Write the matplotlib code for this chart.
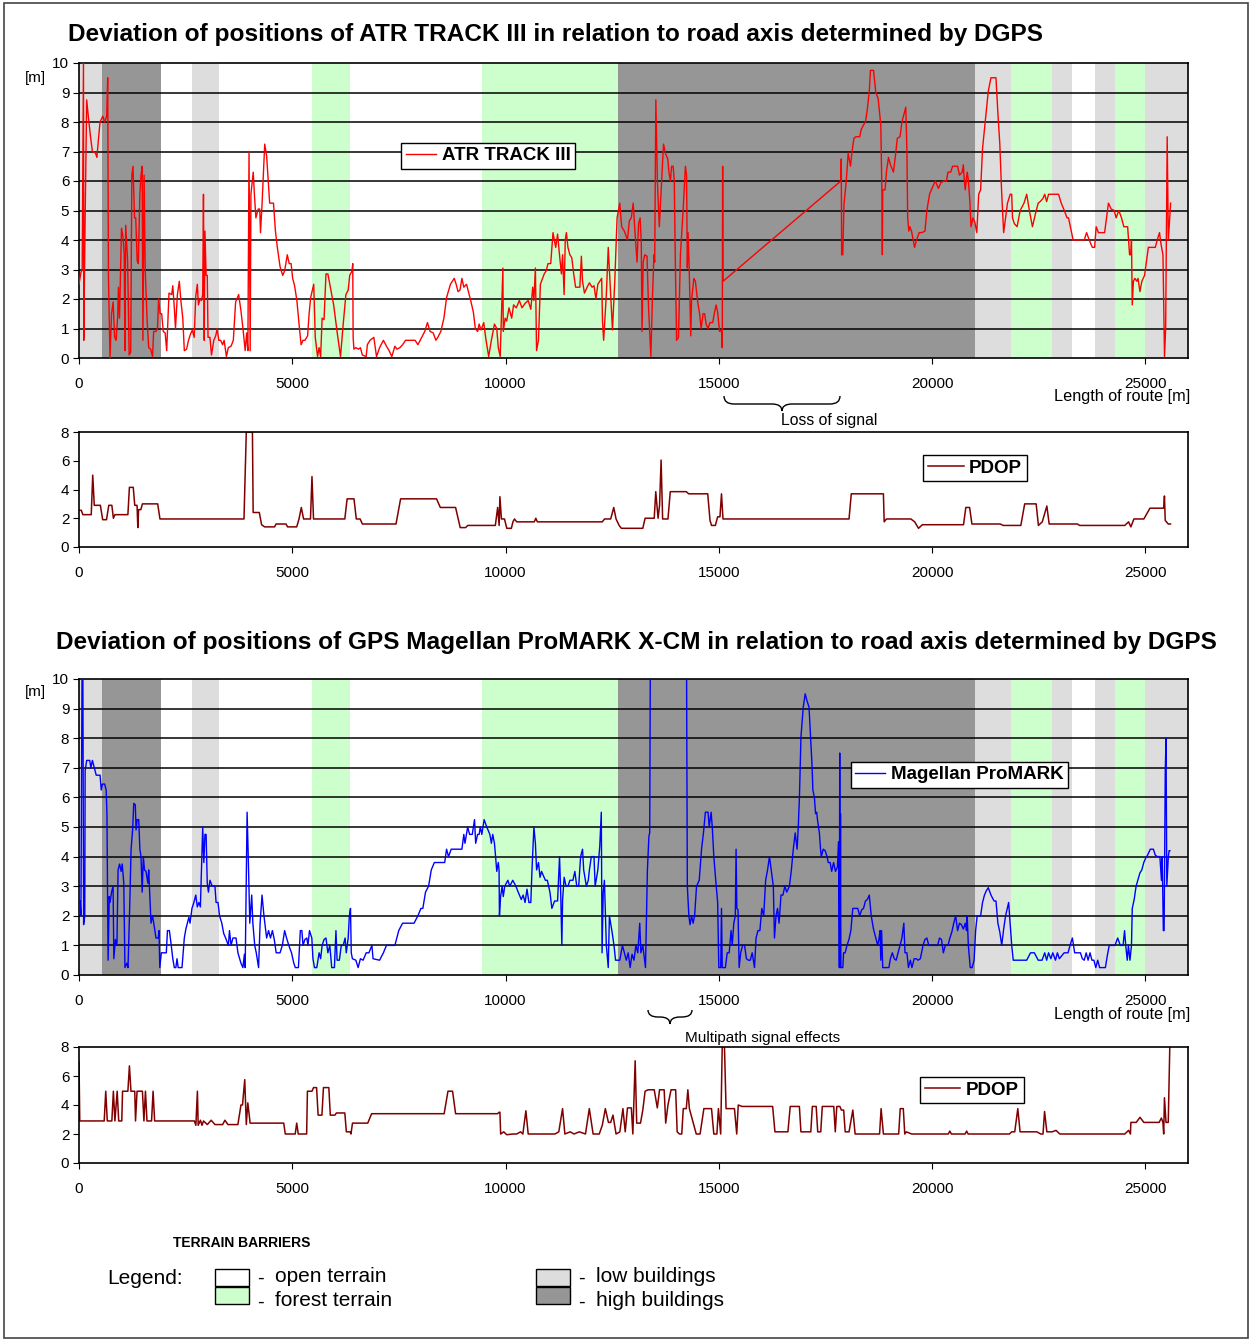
import numpy as np
import matplotlib.pyplot as plt
from matplotlib.patches import Rectangle, PathPatch
from matplotlib.path import Path

plt.rcParams['font.family'] = ['Liberation Sans', 'DejaVu Sans']

W, H = 1252, 1341

# terrain barriers along the route [m]
band_edges = [0, 530, 1912, 2640, 3277, 5458, 6347, 9444, 12633, 21003,
              21849, 22812, 23280, 23829, 24297, 25000, 26000]
band_types = ['low', 'high', 'open', 'low', 'open', 'forest', 'open', 'forest',
              'high', 'low', 'forest', 'low', 'open', 'low', 'forest', 'low']
band_colors = {'open': 'white', 'forest': '#ccffcc', 'low': '#dddddd', 'high': '#969696'}

# ATR TRACK III deviation (distance [m], deviation [m])
atr_points = [
    (0, 2.5), (45, 2.9), (75, 3.0), (105, 10.0), (112, 0.6), (140, 4.3), (180, 8.75), (225, 8.1),
    (270, 7.5), (314, 7.0), (386, 6.95), (420, 6.8), (458, 7.45), (494, 8.0), (557, 8.2), (600, 8.0),
    (650, 8.2), (673, 9.5), (690, 2.8), (727, 0.0), (763, 1.5), (800, 1.9), (835, 0.7), (870, 0.6),
    (907, 1.4), (925, 2.4), (950, 1.35), (996, 4.4), (1032, 4.1), (1060, 3.5), (1077, 0.25),
    (1095, 4.5), (1140, 3.3), (1176, 0.1), (1212, 0.2), (1239, 6.2), (1266, 6.5), (1302, 4.75),
    (1330, 4.75), (1364, 3.3), (1390, 3.2), (1427, 5.55), (1454, 6.2), (1481, 6.5), (1499, 0.6),
    (1526, 6.2), (1553, 2.95), (1598, 1.25), (1634, 0.35), (1680, 0.3), (1724, 0.05), (1750, 0.9),
    (1805, 0.9), (1840, 1.0), (1867, 2.0), (1903, 1.5), (1939, 1.5), (1975, 0.9), (2020, 0.85),
    (2056, 0.25), (2110, 2.2), (2173, 2.15), (2199, 2.45), (2235, 1.7), (2262, 1.0), (2307, 2.15),
    (2352, 2.6), (2388, 1.95), (2433, 1.35), (2469, 0.25), (2523, 0.3), (2567, 0.6), (2612, 0.8),
    (2657, 0.95), (2700, 0.7), (2738, 2.1), (2774, 2.5), (2800, 1.8), (2837, 2.0), (2873, 1.95),
    (2900, 2.15), (2918, 5.55), (2936, 0.6), (2953, 4.3), (2980, 2.8), (3007, 2.8), (3025, 0.7),
    (3070, 0.7), (3106, 0.1), (3160, 0.6), (3205, 0.75), (3241, 1.0), (3277, 0.6), (3321, 0.6),
    (3366, 0.45), (3402, 0.6), (3456, 0.05), (3500, 0.35), (3564, 0.4), (3618, 0.6), (3672, 1.9),
    (3743, 2.15), (3797, 1.6), (3851, 0.9), (3896, 0.25), (3932, 0.85), (3959, 0.25), (3986, 7.0),
    (4013, 0.25), (4031, 5.55), (4085, 6.3), (4112, 5.55), (4147, 4.75), (4201, 5.05), (4237, 5.05),
    (4255, 4.25), (4291, 5.2), (4354, 7.25), (4399, 6.85), (4470, 5.25), (4560, 5.25), (4605, 4.3),
    (4650, 3.75), (4713, 3.1), (4776, 2.8), (4821, 2.95), (4883, 3.5), (4928, 3.2), (4973, 3.2),
    (5009, 2.7), (5054, 2.45), (5108, 1.95), (5162, 1.1), (5207, 0.45), (5252, 0.6), (5296, 0.6),
    (5359, 0.75), (5395, 1.5), (5431, 2.05), (5503, 2.5), (5539, 0.7), (5593, 0.05), (5629, 0.35),
    (5665, 0.05), (5700, 1.35), (5745, 1.3), (5790, 2.85), (5835, 2.85), (5880, 2.5), (5970, 1.8),
    (6059, 0.8), (6131, 0.05), (6194, 1.15), (6257, 2.15), (6311, 2.3), (6347, 2.8), (6400, 2.95),
    (6418, 3.2), (6427, 0.7), (6445, 0.3), (6490, 0.35), (6553, 0.3), (6598, 0.35), (6643, 0.1),
    (6733, 0.05), (6760, 0.45), (6822, 0.6), (6912, 0.7), (6975, 0.05), (7047, 0.35), (7137, 0.6),
    (7208, 0.4), (7271, 0.25), (7334, 0.05), (7406, 0.4), (7451, 0.3), (7523, 0.35), (7586, 0.45),
    (7657, 0.6), (7810, 0.6), (7880, 0.6), (7945, 0.45), (8034, 0.7), (8106, 0.9), (8169, 1.2),
    (8232, 0.9), (8304, 0.85), (8367, 0.6), (8412, 0.7), (8483, 0.9), (8555, 1.35), (8618, 2.05),
    (8708, 2.5), (8797, 2.7), (8842, 2.5), (8887, 2.25), (8932, 2.3), (8977, 2.7), (9022, 2.4),
    (9085, 2.5), (9130, 2.25), (9183, 1.95), (9246, 1.55), (9291, 1.0), (9345, 0.9), (9381, 1.15),
    (9426, 0.95), (9489, 1.2), (9543, 0.6), (9605, 0.05), (9668, 0.6), (9740, 1.15), (9794, 1.0),
    (9830, 0.35), (9875, 0.05), (9938, 3.05), (9947, 0.9), (9991, 1.35), (10027, 1.25), (10081, 1.7),
    (10144, 1.35), (10189, 1.8), (10252, 1.7), (10323, 1.95), (10386, 1.7), (10458, 1.85),
    (10530, 1.95), (10593, 1.65), (10637, 2.4), (10664, 1.95), (10700, 3.05), (10727, 0.25),
    (10772, 0.6), (10817, 2.5), (10907, 2.85), (10952, 2.95), (10996, 3.2), (11059, 3.2),
    (11113, 4.25), (11176, 3.75), (11220, 4.2), (11265, 3.5), (11310, 2.85), (11337, 3.5),
    (11373, 2.15), (11400, 4.0), (11427, 4.25), (11463, 3.75), (11508, 3.5), (11553, 3.4),
    (11598, 2.85), (11643, 2.4), (11697, 2.4), (11742, 2.4), (11778, 3.45), (11805, 2.6),
    (11850, 2.2), (11913, 2.4), (11966, 2.55), (12029, 2.4), (12074, 2.45), (12119, 2.0),
    (12164, 2.5), (12209, 2.6), (12254, 2.7), (12273, 1.25), (12300, 0.6), (12363, 2.15),
    (12408, 3.75), (12507, 0.95), (12561, 2.6), (12615, 4.75), (12678, 5.25), (12723, 4.45),
    (12786, 4.3), (12858, 4.0), (12903, 4.65), (12948, 4.75), (12993, 5.25), (13038, 4.2),
    (13083, 3.25), (13119, 4.55), (13155, 4.75), (13182, 3.95), (13200, 0.9), (13227, 3.25),
    (13263, 3.5), (13317, 3.45), (13353, 1.7), (13407, 0.05), (13443, 2.0), (13479, 3.5),
    (13497, 3.25), (13524, 8.75), (13560, 6.0), (13605, 4.45), (13659, 6.0), (13704, 7.25),
    (13758, 6.9), (13803, 6.75), (13830, 6.3), (13866, 6.0), (13893, 6.5), (13929, 6.5),
    (13956, 6.0), (13983, 3.05), (14010, 0.6), (14055, 0.7), (14100, 3.5), (14163, 5.0),
    (14217, 6.5), (14244, 6.2), (14262, 3.05), (14280, 4.25), (14307, 2.95), (14343, 0.75),
    (14361, 1.95), (14415, 2.7), (14451, 2.6), (14505, 1.9), (14550, 1.5), (14586, 1.0),
    (14631, 1.5), (14667, 1.5), (14703, 1.15), (14748, 1.0), (14793, 1.2), (14856, 1.2),
    (14901, 1.55), (14937, 1.8), (14973, 1.55), (15018, 0.9), (15063, 0.95), (15081, 0.35),
    (15090, 6.5), (15099, 2.6), (17862, 6.0), (17871, 6.75), (17880, 3.5), (17907, 3.5),
    (17934, 5.2), (17988, 6.0), (18033, 6.95), (18087, 6.5), (18123, 7.0), (18168, 7.45),
    (18213, 7.5), (18303, 7.5), (18339, 7.75), (18393, 7.9), (18438, 8.0), (18483, 8.45),
    (18528, 9.05), (18555, 9.75), (18627, 9.75), (18681, 9.0), (18735, 8.8), (18798, 7.9),
    (18825, 5.55), (18834, 3.5), (18843, 5.7), (18897, 5.7), (18933, 6.35), (18978, 6.8),
    (19023, 6.55), (19095, 6.3), (19140, 6.85), (19185, 7.45), (19248, 7.5), (19293, 8.0),
    (19338, 8.25), (19383, 8.5), (19410, 7.05), (19428, 4.75), (19455, 4.3), (19482, 4.45),
    (19518, 4.3), (19563, 3.95), (19590, 3.75), (19635, 4.0), (19698, 4.25), (19761, 4.25),
    (19833, 4.3), (19878, 5.0), (19941, 5.55), (20013, 5.8), (20076, 6.0), (20148, 5.75),
    (20211, 5.95), (20283, 6.0), (20337, 6.0), (20373, 6.3), (20436, 6.3), (20481, 6.5),
    (20598, 6.5), (20643, 6.2), (20706, 6.3), (20733, 6.55), (20751, 6.1), (20778, 5.7),
    (20823, 6.3), (20850, 6.05), (20886, 5.3), (20913, 4.45), (20958, 4.75), (21003, 4.6),
    (21048, 4.25), (21093, 5.55), (21138, 5.7), (21183, 7.1), (21255, 8.15), (21318, 9.05),
    (21381, 9.5), (21498, 9.5), (21543, 8.3), (21588, 7.25), (21633, 5.55), (21678, 4.25),
    (21723, 4.75), (21768, 5.25), (21831, 5.55), (21867, 5.55), (21885, 4.75), (21930, 4.55),
    (21993, 4.45), (22065, 5.0), (22155, 5.25), (22218, 5.55), (22281, 5.0), (22353, 4.45),
    (22425, 4.9), (22488, 5.25), (22533, 5.3), (22596, 5.4), (22641, 5.55), (22686, 5.3),
    (22731, 5.55), (22965, 5.55), (23028, 5.25), (23100, 5.0), (23163, 4.75), (23199, 4.75),
    (23307, 4.0), (23568, 4.0), (23622, 4.25), (23685, 4.0), (23757, 3.75), (23811, 3.75),
    (23847, 4.45), (23901, 4.25), (24045, 4.25), (24090, 4.75), (24135, 5.25), (24198, 5.05),
    (24270, 5.0), (24315, 4.75), (24378, 5.0), (24441, 4.75), (24495, 4.45), (24585, 4.45),
    (24630, 3.5), (24657, 3.5), (24675, 4.0), (24693, 1.8), (24720, 2.6), (24756, 2.7),
    (24801, 2.6), (24828, 2.7), (24873, 2.25), (24918, 2.6), (24981, 2.8), (25071, 3.75),
    (25233, 3.75), (25278, 4.0), (25332, 4.25), (25368, 3.85), (25413, 3.5), (25449, 0.05),
    (25476, 1.0), (25512, 7.5), (25539, 4.0), (25593, 5.25),
]

# Magellan ProMARK X-CM deviation (distance [m], deviation [m])
mag_points = [
    (0, 2.45), (27, 2.5), (45, 2.0), (72, 10.5), (90, 10.5), (108, 1.7), (135, 2.0), (144, 6.9),
    (180, 7.25), (251, 7.25), (278, 7.0), (314, 7.25), (359, 7.0), (404, 6.75), (494, 6.75),
    (521, 6.25), (548, 6.45), (601, 6.45), (637, 6.25), (655, 5.45), (682, 0.5), (709, 2.65),
    (727, 2.45), (763, 2.8), (799, 3.0), (817, 0.55), (853, 1.2), (889, 1.0), (916, 3.55),
    (952, 3.75), (988, 3.5), (1014, 3.75), (1050, 3.1), (1077, 0.25), (1122, 0.4), (1149, 0.25),
    (1185, 2.1), (1221, 4.25), (1257, 4.9), (1284, 5.8), (1320, 5.75), (1338, 4.9), (1364, 5.25),
    (1400, 5.25), (1427, 4.25), (1454, 4.0), (1481, 2.8), (1508, 4.0), (1535, 3.55), (1571, 3.5),
    (1616, 3.1), (1634, 3.55), (1661, 2.65), (1688, 1.75), (1724, 2.0), (1769, 1.6), (1804, 1.25),
    (1858, 1.25), (1876, 1.5), (1894, 0.25), (1930, 0.75), (2047, 0.75), (2074, 1.5), (2119, 1.5),
    (2163, 1.0), (2199, 0.55), (2235, 0.25), (2271, 0.25), (2298, 0.55), (2325, 0.25), (2415, 0.25),
    (2469, 1.25), (2505, 1.55), (2540, 1.75), (2576, 1.95), (2603, 1.75), (2648, 2.25), (2693, 2.45),
    (2738, 2.7), (2774, 2.3), (2810, 2.45), (2846, 2.3), (2873, 3.65), (2900, 5.0), (2927, 3.8),
    (2953, 4.75), (2980, 4.75), (3007, 3.1), (3034, 2.8), (3070, 3.2), (3124, 3.0), (3187, 3.0),
    (3214, 2.45), (3259, 2.45), (3295, 2.0), (3348, 1.75), (3393, 1.4), (3438, 1.25), (3501, 1.0),
    (3528, 1.5), (3564, 1.0), (3609, 1.25), (3681, 1.25), (3726, 0.75), (3797, 0.4), (3842, 0.25),
    (3878, 0.7), (3896, 0.25), (3941, 5.5), (3968, 4.0), (4004, 1.75), (4049, 2.7), (4076, 1.75),
    (4120, 1.0), (4156, 0.75), (4210, 0.25), (4246, 1.75), (4291, 2.7), (4336, 2.0), (4399, 1.25),
    (4444, 1.5), (4489, 1.25), (4534, 1.5), (4578, 1.2), (4623, 0.75), (4713, 0.75), (4767, 1.0),
    (4821, 1.5), (4866, 1.25), (4919, 1.0), (4982, 0.75), (5036, 0.4), (5072, 0.25), (5144, 0.25),
    (5189, 1.5), (5225, 1.5), (5252, 1.0), (5296, 1.2), (5341, 1.25), (5368, 1.0), (5404, 1.5),
    (5458, 1.25), (5485, 0.55), (5521, 0.25), (5575, 0.25), (5629, 0.75), (5665, 0.55), (5700, 1.0),
    (5745, 1.2), (5790, 1.25), (5835, 0.75), (5880, 1.0), (5925, 0.25), (5988, 0.25), (6024, 1.5),
    (6051, 0.5), (6104, 0.5), (6149, 1.0), (6194, 1.0), (6239, 1.25), (6266, 0.75), (6311, 1.25),
    (6338, 2.0), (6365, 2.25), (6383, 0.75), (6410, 0.55), (6490, 0.5), (6544, 0.25), (6598, 0.55),
    (6661, 0.5), (6733, 0.75), (6796, 0.75), (6867, 1.0), (6894, 0.55), (7047, 0.5), (7137, 0.75),
    (7208, 1.0), (7406, 1.0), (7496, 1.5), (7586, 1.75), (7855, 1.75), (7945, 2.0), (8016, 2.25),
    (8061, 2.25), (8124, 2.8), (8196, 3.0), (8259, 3.55), (8331, 3.8), (8573, 3.8), (8618, 4.25),
    (8663, 4.0), (8726, 4.25), (8977, 4.25), (9022, 4.75), (9049, 4.45), (9112, 5.0), (9157, 4.75),
    (9220, 4.75), (9273, 5.25), (9300, 4.45), (9345, 4.75), (9381, 4.75), (9408, 5.0), (9444, 4.75),
    (9498, 5.25), (9560, 5.0), (9632, 4.75), (9668, 4.45), (9700, 4.75), (9740, 4.45), (9767, 4.0),
    (9794, 3.5), (9830, 3.8), (9848, 3.55), (9857, 2.0), (9884, 2.65), (9920, 3.0), (9947, 2.65),
    (9982, 3.0), (10054, 3.2), (10099, 3.0), (10170, 3.2), (10243, 3.0), (10297, 2.8), (10369, 2.55),
    (10413, 2.7), (10458, 2.45), (10503, 2.9), (10548, 2.45), (10593, 2.45), (10620, 3.55),
    (10665, 5.0), (10700, 4.45), (10728, 3.55), (10773, 3.8), (10808, 3.3), (10844, 3.5),
    (10934, 3.2), (10980, 3.2), (11041, 2.8), (11086, 2.25), (11150, 2.5), (11220, 2.5),
    (11266, 4.0), (11293, 2.8), (11320, 1.0), (11338, 2.55), (11374, 3.3), (11419, 3.0),
    (11464, 3.0), (11509, 3.2), (11580, 3.2), (11625, 3.5), (11670, 3.0), (11715, 3.0),
    (11760, 4.0), (11805, 4.25), (11832, 3.55), (11895, 3.0), (11940, 3.2), (11966, 3.55),
    (12011, 4.0), (12074, 4.0), (12101, 3.0), (12164, 3.55), (12209, 4.35), (12245, 5.5),
    (12263, 0.75), (12290, 2.8), (12318, 3.2), (12363, 1.0), (12408, 0.25), (12435, 2.0),
    (12498, 1.45), (12543, 1.0), (12579, 0.5), (12678, 0.5), (12741, 1.0), (12786, 0.75),
    (12831, 0.5), (12876, 0.75), (12921, 0.25), (12966, 0.7), (13011, 0.5), (13056, 1.0),
    (13101, 0.75), (13146, 1.75), (13173, 0.75), (13218, 1.0), (13281, 0.25), (13326, 3.55),
    (13362, 4.7), (13380, 4.8), (13398, 12.0), (14240, 12.0), (14262, 3.0), (14298, 2.0),
    (14325, 1.7), (14361, 2.0), (14397, 1.75), (14433, 2.0), (14478, 3.0), (14541, 3.2),
    (14595, 4.25), (14640, 4.8), (14685, 5.5), (14748, 5.5), (14775, 5.0), (14820, 5.5),
    (14847, 5.0), (14883, 4.0), (14928, 3.2), (14973, 2.45), (15000, 0.25), (15045, 0.25),
    (15063, 2.25), (15081, 0.25), (15153, 0.25), (15198, 0.75), (15243, 0.75), (15288, 1.5),
    (15315, 1.0), (15351, 1.75), (15387, 2.0), (15405, 4.25), (15423, 2.25), (15450, 2.2),
    (15477, 0.25), (15513, 0.75), (15558, 1.0), (15603, 1.0), (15648, 0.55), (15693, 0.5),
    (15738, 0.5), (15783, 0.75), (15810, 0.5), (15837, 0.25), (15873, 1.25), (15918, 1.5),
    (15963, 1.5), (16008, 2.25), (16053, 2.0), (16098, 3.2), (16143, 3.55), (16188, 4.0),
    (16233, 3.5), (16278, 3.0), (16305, 1.25), (16341, 2.0), (16377, 2.25), (16413, 1.75),
    (16458, 2.7), (16503, 2.7), (16548, 3.0), (16593, 2.8), (16656, 3.0), (16701, 3.55),
    (16746, 4.25), (16791, 4.8), (16836, 4.25), (16863, 5.0), (16890, 6.0), (16926, 8.05),
    (16980, 9.05), (17025, 9.5), (17070, 9.25), (17115, 9.05), (17151, 8.05), (17187, 7.05),
    (17205, 6.25), (17241, 6.0), (17268, 5.45), (17295, 5.5), (17313, 5.25), (17358, 4.8),
    (17385, 4.25), (17403, 4.0), (17448, 4.25), (17493, 4.2), (17538, 4.0), (17565, 3.8),
    (17610, 3.8), (17646, 3.5), (17691, 3.8), (17736, 3.5), (17781, 3.65), (17808, 4.5),
    (17826, 0.25), (17835, 7.5), (17844, 0.25), (17853, 5.45), (17862, 0.25), (17907, 0.25),
    (17925, 0.75), (17961, 0.75), (18006, 1.0), (18051, 1.2), (18096, 1.5), (18141, 2.25),
    (18258, 2.25), (18303, 2.0), (18348, 2.2), (18393, 2.25), (18438, 2.5), (18483, 2.55),
    (18528, 2.7), (18573, 2.0), (18627, 1.55), (18681, 1.25), (18726, 1.0), (18753, 1.2),
    (18780, 1.5), (18798, 0.5), (18816, 1.5), (18843, 0.25), (18987, 0.25), (19023, 0.55),
    (19068, 0.75), (19113, 0.55), (19158, 0.5), (19203, 0.75), (19248, 1.0), (19293, 1.25),
    (19338, 1.75), (19365, 0.75), (19410, 0.75), (19446, 0.25), (19491, 0.5), (19527, 0.25),
    (19581, 0.55), (19626, 0.55), (19671, 0.5), (19725, 0.55), (19788, 1.0), (19833, 1.2),
    (19878, 1.25), (19923, 1.0), (20085, 1.0), (20130, 1.0), (20175, 1.25), (20220, 1.2),
    (20265, 0.75), (20310, 1.0), (20373, 1.0), (20418, 1.25), (20463, 1.45), (20508, 1.75),
    (20553, 2.0), (20598, 1.5), (20643, 1.75), (20688, 1.7), (20733, 1.55), (20778, 1.75),
    (20805, 1.5), (20823, 2.0), (20850, 1.0), (20895, 0.25), (20940, 0.25), (20985, 0.5),
    (21021, 1.5), (21057, 2.0), (21138, 2.0), (21183, 2.45), (21228, 2.7), (21273, 2.85),
    (21318, 2.95), (21381, 2.7), (21453, 2.5), (21498, 2.5), (21543, 1.75), (21588, 1.45),
    (21633, 1.0), (21678, 1.55), (21723, 2.0), (21795, 2.45), (21831, 1.75), (21867, 1.0),
    (21903, 0.5), (22218, 0.5), (22308, 0.75), (22398, 0.75), (22488, 0.5), (22578, 0.5),
    (22641, 0.75), (22686, 0.5), (22731, 0.75), (22785, 0.55), (22830, 0.75), (22893, 0.5),
    (22938, 0.75), (22983, 0.55), (23097, 0.75), (23187, 0.75), (23235, 1.0), (23289, 1.25),
    (23343, 0.75), (23478, 0.75), (23523, 0.55), (23568, 0.5), (23613, 0.75), (23658, 0.5),
    (23703, 0.75), (23748, 0.5), (23793, 0.5), (23838, 0.25), (23883, 0.5), (23928, 0.25),
    (24063, 0.25), (24108, 0.65), (24153, 1.0), (24288, 1.0), (24351, 1.25), (24414, 1.0),
    (24477, 1.0), (24513, 1.5), (24540, 1.0), (24576, 0.5), (24603, 1.0), (24639, 0.5),
    (24675, 1.0), (24693, 2.25), (24738, 2.55), (24783, 3.0), (24873, 3.45), (24918, 3.55),
    (24963, 3.8), (25008, 3.95), (25053, 4.05), (25116, 4.25), (25188, 4.25), (25233, 4.05),
    (25278, 4.0), (25341, 4.0), (25377, 3.2), (25395, 4.0), (25422, 1.5), (25440, 1.5),
    (25467, 6.9), (25485, 8.0), (25503, 3.0), (25539, 4.0), (25557, 4.2), (25575, 4.2),
]

# PDOP recorded with ATR TRACK III
pdop_atr = [
    (0, 2.55), (55, 2.55), (90, 2.25), (287, 2.25), (322, 5.0), (358, 2.9), (501, 2.9), (555, 1.9),
    (645, 1.9), (698, 2.9), (770, 2.9), (806, 2.0), (842, 2.25), (1146, 2.25), (1182, 4.15),
    (1272, 4.15), (1307, 2.9), (1361, 2.9), (1379, 1.35), (1397, 2.6), (1450, 2.6), (1487, 3.0),
    (1845, 3.0), (1898, 1.95), (3868, 1.95), (3922, 8.0), (4066, 8.0), (4083, 2.4), (4227, 2.4),
    (4281, 1.55), (4352, 1.4), (4585, 1.4), (4621, 1.6), (4854, 1.6), (4890, 1.4), (5104, 1.4),
    (5158, 1.95), (5212, 2.75), (5265, 1.95), (5427, 1.95), (5462, 4.9), (5498, 1.95), (6232, 1.95),
    (6286, 3.35), (6447, 3.35), (6501, 1.95), (6590, 1.95), (6644, 1.6), (7432, 1.6), (7540, 3.35),
    (8382, 3.35), (8471, 2.75), (8829, 2.75), (8937, 1.35), (9062, 1.35), (9116, 1.5), (9761, 1.5),
    (9815, 2.75), (9850, 1.5), (9868, 3.5), (9904, 1.95), (9975, 1.95), (10029, 1.3), (10137, 1.3),
    (10173, 1.75), (10209, 1.95), (10262, 1.75), (10674, 1.75), (10710, 2.0), (10746, 1.75),
    (12268, 1.75), (12322, 1.95), (12465, 1.95), (12537, 2.75), (12591, 1.95), (12663, 1.5),
    (12716, 1.3), (13218, 1.3), (13272, 2.0), (13486, 2.0), (13522, 3.85), (13576, 2.0),
    (13611, 2.9), (13647, 6.05), (13683, 1.95), (13808, 1.95), (13862, 3.85), (14238, 3.85),
    (14292, 3.7), (14740, 3.7), (14794, 1.85), (14829, 1.5), (14919, 1.5), (14973, 2.1),
    (15027, 2.1), (15063, 3.7), (15098, 1.95), (18053, 1.95), (18106, 3.7), (18859, 3.7),
    (18877, 1.75), (18930, 1.95), (19503, 1.95), (19592, 1.75), (19682, 1.3), (19772, 1.55),
    (20737, 1.55), (20791, 2.75), (20880, 2.75), (20934, 1.6), (21597, 1.6), (21669, 1.5),
    (22081, 1.5), (22171, 3.0), (22440, 3.0), (22493, 1.5), (22583, 1.75), (22691, 2.85),
    (22745, 1.6), (23407, 1.6), (23461, 1.5), (24518, 1.5), (24607, 1.75), (24661, 1.4),
    (24732, 1.95), (24965, 1.95), (25108, 2.7), (25430, 2.7), (25448, 3.55), (25466, 1.85),
    (25537, 1.6), (25590, 1.6),
]

# PDOP recorded with Magellan ProMARK X-CM
pdop_mag = [
    (0, 7.0), (18, 2.9), (591, 2.9), (627, 4.95), (663, 2.9), (770, 2.9), (806, 4.95), (842, 2.9),
    (895, 4.95), (931, 2.9), (1003, 2.9), (1021, 4.95), (1146, 4.95), (1182, 6.7), (1218, 4.95),
    (1307, 4.95), (1325, 2.9), (1361, 4.95), (1487, 4.95), (1522, 2.9), (1558, 4.95), (1594, 2.9),
    (1701, 2.9), (1737, 4.95), (1773, 2.9), (2704, 2.9), (2740, 2.6), (2776, 4.95), (2794, 2.6),
    (2847, 2.95), (2883, 2.6), (2919, 2.9), (3009, 2.65), (3098, 2.95), (3188, 2.65), (3367, 2.65),
    (3421, 2.95), (3492, 2.65), (3725, 2.65), (3797, 4.0), (3833, 4.0), (3886, 5.75), (3922, 2.65),
    (3958, 4.15), (4012, 2.75), (4800, 2.75), (4836, 2.0), (5069, 2.0), (5104, 2.75), (5140, 2.0),
    (5337, 2.0), (5355, 4.95), (5462, 4.95), (5498, 5.2), (5570, 5.2), (5606, 3.3), (5695, 3.3),
    (5731, 5.2), (5857, 5.2), (5892, 3.3), (5999, 3.3), (6035, 3.45), (6232, 3.45), (6268, 2.15),
    (6358, 2.15), (6376, 2.0), (6412, 2.75), (6770, 2.75), (6860, 3.4), (8561, 3.4), (8650, 4.95),
    (8758, 4.95), (8829, 3.4), (9814, 3.4), (9850, 3.5), (9868, 3.5), (9886, 2.0), (9958, 2.15),
    (10029, 1.95), (10173, 2.0), (10262, 2.0), (10352, 2.15), (10406, 2.0), (10477, 3.6),
    (10531, 2.0), (11158, 2.0), (11248, 2.15), (11337, 3.75), (11391, 2.0), (11516, 2.15),
    (11606, 2.0), (11731, 2.15), (11874, 2.0), (11964, 3.75), (12053, 2.0), (12197, 2.0),
    (12268, 2.6), (12340, 3.75), (12412, 2.8), (12465, 2.8), (12519, 3.3), (12591, 2.0),
    (12680, 2.15), (12752, 3.75), (12806, 2.15), (12859, 3.8), (12949, 3.8), (12985, 2.0),
    (13039, 7.05), (13075, 2.75), (13164, 2.75), (13218, 3.65), (13272, 4.95), (13343, 5.05),
    (13486, 5.05), (13558, 3.8), (13611, 5.05), (13719, 5.05), (13755, 2.75), (13808, 4.0),
    (13880, 5.05), (13988, 5.05), (14024, 2.15), (14077, 2.0), (14131, 2.0), (14167, 3.75),
    (14238, 3.75), (14274, 5.05), (14310, 3.75), (14471, 2.0), (14561, 2.0), (14650, 3.75),
    (14829, 3.75), (14883, 2.0), (14955, 2.0), (14991, 3.75), (15044, 2.0), (15080, 8.0),
    (15133, 8.0), (15170, 3.75), (15367, 3.75), (15420, 2.0), (15456, 4.0), (15546, 3.9),
    (16262, 3.9), (16316, 2.15), (16620, 2.15), (16674, 3.9), (16889, 3.9), (16925, 2.15),
    (17157, 2.15), (17193, 3.9), (17283, 3.9), (17319, 2.15), (17390, 2.15), (17426, 3.9),
    (17695, 3.9), (17731, 2.15), (17766, 3.9), (17838, 3.9), (17874, 3.65), (17927, 3.65),
    (17963, 2.15), (18053, 2.15), (18142, 3.65), (18196, 2.0), (18769, 2.0), (18805, 3.75),
    (18859, 2.0), (19217, 2.0), (19253, 3.75), (19325, 3.75), (19360, 2.0), (19396, 2.15),
    (19521, 2.0), (20380, 2.0), (20416, 2.2), (20452, 2.0), (20774, 2.0), (20810, 2.2),
    (20845, 2.0), (21813, 2.0), (21866, 2.15), (21938, 2.15), (22010, 3.75), (22063, 2.15),
    (22457, 2.15), (22547, 2.0), (22601, 2.0), (22637, 3.55), (22691, 2.15), (22816, 2.15),
    (22906, 2.25), (22995, 2.0), (24518, 2.0), (24607, 2.25), (24650, 2.0), (24661, 2.8),
    (24786, 2.8), (24875, 3.15), (24965, 2.8), (25323, 2.8), (25376, 3.1), (25412, 2.8),
    (25430, 2.0), (25448, 4.5), (25484, 2.8), (25537, 2.8), (25573, 8.0),
]

title_atr = 'Deviation of positions of ATR TRACK III in relation to road axis determined by DGPS'
title_mag = ('Deviation of positions of GPS Magellan ProMARK X-CM in relation to road axis '
             'determined by DGPS')
x_ticks = [0, 5000, 10000, 15000, 20000, 25000]

fig = plt.figure(figsize=(W / 100, H / 100), dpi=100)


def fx(px):
    return px / W


def fy(py):
    return 1 - py / H


def add_ax(left, top, right, bottom):
    return fig.add_axes([fx(left), fy(bottom), (right - left) / W, (bottom - top) / H])


def deviation_panel(ax, pts, color, label, leg_xy):
    for i, kind in enumerate(band_types):
        ax.axvspan(band_edges[i], band_edges[i + 1], color=band_colors[kind], lw=0, zorder=0)
    for v in range(1, 10):
        ax.axhline(v, color='black', lw=1.1, zorder=1)
    d, v = np.array(pts).T
    ax.plot(d, v, color=color, lw=1.0, zorder=3, label=label)
    ax.set_xlim(0, 26000)
    ax.set_ylim(0, 10)
    ax.set_yticks(range(11))
    ax.set_xticks(x_ticks)
    ax.tick_params(labelsize=11, length=4, width=0.8, pad=3)
    ax.tick_params(axis='x', pad=10)
    for s in ax.spines.values():
        s.set_linewidth(1.2)
    leg = ax.legend(loc='center', bbox_to_anchor=leg_xy, fancybox=False, framealpha=1,
                    edgecolor='black', handlelength=1.6, handletextpad=0.3, borderpad=0.25,
                    borderaxespad=0, prop={'weight': 'bold', 'size': 13.5})
    leg.get_frame().set_linewidth(1.0)
    leg.set_zorder(5)


def pdop_panel(ax, pts, leg_xy):
    d, v = np.array(pts).T
    ax.plot(d, v, color='#800000', lw=1.1, label='PDOP')
    ax.set_xlim(0, 26000)
    ax.set_ylim(0, 8)
    ax.set_yticks([0, 2, 4, 6, 8])
    ax.set_xticks(x_ticks)
    ax.tick_params(labelsize=11, length=4, width=0.8, pad=3)
    ax.tick_params(axis='x', pad=10)
    for s in ax.spines.values():
        s.set_linewidth(1.2)
    leg = ax.legend(loc='center', bbox_to_anchor=leg_xy, fancybox=False, framealpha=1,
                    edgecolor='black', handlelength=1.9, handletextpad=0.3, borderpad=0.25,
                    borderaxespad=0, prop={'weight': 'bold', 'size': 13.5})
    leg.get_frame().set_linewidth(1.0)


def brace(x0, x1, ytop, ymid, ytip):
    xm = (x0 + x1) / 2
    r = min(10, (x1 - x0) / 4)
    verts = [(x0, ytop), (x0, ymid), (x0 + r, ymid), (xm - r, ymid), (xm, ymid), (xm, ytip),
             (xm, ymid), (xm + r, ymid), (x1 - r, ymid), (x1, ymid), (x1, ytop)]
    codes = [Path.MOVETO, Path.CURVE3, Path.CURVE3, Path.LINETO, Path.CURVE3, Path.CURVE3,
             Path.CURVE3, Path.CURVE3, Path.LINETO, Path.CURVE3, Path.CURVE3]
    verts = [(fx(a), fy(b)) for a, b in verts]
    fig.add_artist(PathPatch(Path(verts, codes), transform=fig.transFigure, fill=False,
                             lw=1.0, edgecolor='black'))


ax1 = add_ax(79, 63, 1188, 358)
deviation_panel(ax1, atr_points, '#ff0000', 'ATR TRACK III', (0.369, 0.685))
ax2 = add_ax(79, 432, 1188, 547)
pdop_panel(ax2, pdop_atr, (0.808, 0.687))
ax3 = add_ax(79, 679, 1188, 975)
deviation_panel(ax3, mag_points, '#0000ff', 'Magellan ProMARK', (0.794, 0.676))
ax4 = add_ax(79, 1047, 1188, 1163)
pdop_panel(ax4, pdop_mag, (0.805, 0.629))

fig.text(fx(68), fy(34), title_atr, fontsize=17.6, fontweight='bold', va='center', ha='left')
fig.text(fx(56), fy(642), title_mag, fontsize=17.6, fontweight='bold', va='center', ha='left')
for yy in (78, 692):
    fig.text(fx(25), fy(yy), '[m]', fontsize=11, va='center', ha='left')
for yy in (397, 1014):
    fig.text(fx(1190), fy(yy), 'Length of route [m]', fontsize=11.7, va='center', ha='right')

brace(724, 840, 396, 404, 411)
fig.text(fx(781), fy(420), 'Loss of signal', fontsize=11.3, va='center', ha='left')
brace(648, 692, 1010, 1017, 1024)
fig.text(fx(685), fy(1038), 'Multipath signal effects', fontsize=11, va='center', ha='left')

# terrain legend
fig.text(fx(173), fy(1243), 'TERRAIN BARRIERS', fontsize=10, fontweight='bold',
         va='center', ha='left', family=['Liberation Sans Narrow', 'Liberation Sans'])
fig.text(fx(107), fy(1279), 'Legend:', fontsize=15, va='center', ha='left')
legend_items = [(215, 1269, 'open', 'open terrain', 1276), (215, 1287, 'forest', 'forest terrain', 1300),
                (536, 1269, 'low', 'low buildings', 1276), (536, 1287, 'high', 'high buildings', 1300)]
for bx, by, kind, text, ty in legend_items:
    fig.add_artist(Rectangle((fx(bx), fy(by + 17)), 34 / W, 17 / H, transform=fig.transFigure,
                             facecolor=band_colors[kind], edgecolor='black', lw=1.0))
    fig.text(fx(bx + 42), fy(ty + 2), '-', fontsize=14.5, va='center', ha='left')
    fig.text(fx(bx + 60), fy(ty), text, fontsize=15, va='center', ha='left')

fig.add_artist(Rectangle((fx(4), fy(1338)), 1244 / W, 1335 / H, transform=fig.transFigure,
                         fill=False, edgecolor='#444444', lw=1.2))

fig.savefig('out.png', dpi=100)
